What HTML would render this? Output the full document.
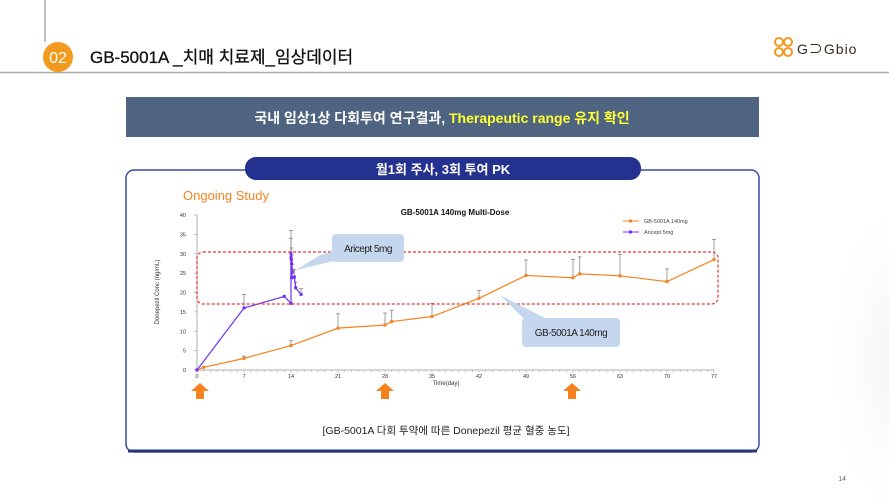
<!DOCTYPE html>
<html><head><meta charset="utf-8"><style>
html,body{margin:0;padding:0;background:#fff;}
body{width:889px;height:499px;overflow:hidden;position:relative;font-family:"Liberation Sans","Noto Sans CJK KR",sans-serif;}
</style></head><body>
<svg id="s" width="889" height="499" xmlns="http://www.w3.org/2000/svg" style="position:absolute;left:0;top:0">
<defs>
<radialGradient id="bg" cx="1" cy="0.6" r="0.5"><stop offset="0" stop-color="#ececec"/><stop offset="1" stop-color="#fff" stop-opacity="0"/></radialGradient>
</defs>
<rect x="760" y="150" width="129" height="349" fill="url(#bg)" opacity="0.6"/>
<line x1="45" y1="0" x2="45" y2="42" stroke="#aaa" stroke-width="1.5"/>
<line x1="0" y1="72.5" x2="889" y2="72.5" stroke="#aaa" stroke-width="1.5"/>
<circle cx="58" cy="57" r="15" fill="#f29a1d"/>
<text x="58" y="63" font-size="16" fill="#fff" text-anchor="middle">02</text>
<text x="90" y="63" font-size="17" fill="#111" stroke="#111" stroke-width="0.3">GB-5001A _치매 치료제_임상데이터</text>
<g fill="none" stroke="#f29a1d" stroke-width="2">
<circle cx="779" cy="42" r="4"/><circle cx="788" cy="42" r="4"/><circle cx="779" cy="52" r="4"/><circle cx="788" cy="52" r="4"/></g>
<text x="797" y="54" font-size="14" fill="#3a2a20" letter-spacing="1">G⊃Gbio</text>
<rect x="126" y="97" width="633" height="40" fill="#4f6480"/>
<text x="442" y="123" font-size="14" fill="#fff" text-anchor="middle" font-weight="bold">국내 임상1상 다회투여  연구결과, <tspan fill="#ffff33">Therapeutic range 유지 확인</tspan></text>
<rect x="126" y="170" width="633" height="282" rx="8" fill="#fff" stroke="#3a4aa0" stroke-width="1.5"/>
<line x1="128" y1="451" x2="757" y2="451" stroke="#2a357f" stroke-width="3"/>
<rect x="245" y="157" width="396" height="23" rx="11" fill="#24318e"/>
<text x="443" y="174" font-size="13" fill="#fff" text-anchor="middle" font-weight="bold">월1회 주사, 3회 투여 PK</text>
<text x="183" y="200" font-size="13" fill="#f5821f">Ongoing Study</text>
<text x="455" y="215" font-size="8" fill="#111" text-anchor="middle" font-weight="bold">GB-5001A  140mg  Multi-Dose</text>
<text x="159" y="292" font-size="6" fill="#333" text-anchor="middle" transform="rotate(-90 159 292)">Donepezil Conc (ng/mL)</text>
<text x="446" y="385" font-size="6" fill="#333" text-anchor="middle">Time(day)</text>
<line x1="623" y1="221" x2="639" y2="221" stroke="#f5821f"/><rect x="629" y="219.5" width="3" height="3" fill="#f5821f"/>
<text x="644" y="223" font-size="5.5" fill="#444">GB-5001A 140mg</text>
<line x1="623" y1="232" x2="639" y2="232" stroke="#7030f0"/><rect x="629" y="230.5" width="3" height="3" fill="#7030f0"/>
<text x="644" y="234" font-size="5.5" fill="#444">Aricept 5mg</text>
<g id="g"></g>
<rect x="197" y="252" width="521" height="52" rx="6" fill="none" stroke="#f03030" stroke-width="1.2" stroke-dasharray="3,2"/>
<polygon points="320,255 338,250 338,260 296,270" fill="#c5d7ee"/>
<rect x="332" y="234" width="72" height="28" rx="4" fill="#c5d7ee"/>
<text x="368" y="252" font-size="10" fill="#222" text-anchor="middle" letter-spacing="-0.5">Aricept 5mg</text>
<polygon points="500,295 545,318 530,325" fill="#c5d7ee"/>
<rect x="522" y="318" width="98" height="29" rx="4" fill="#c5d7ee"/>
<text x="571" y="336" font-size="10" fill="#222" text-anchor="middle" letter-spacing="-0.5">GB-5001A 140mg</text>
<g fill="#f5821f">
<polygon points="200,383 209,391 204,391 204,399 196,399 196,391 191,391"/>
<polygon points="385,383 394,391 389,391 389,399 381,399 381,391 376,391"/>
<polygon points="572,383 581,391 576,391 576,399 568,399 568,391 563,391"/>
</g>
<text x="446" y="434" font-size="10.5" fill="#222" text-anchor="middle">[GB-5001A 다회 투약에 따른 Donepezil 평균 혈중 농도]</text>
<text x="846" y="481" font-size="7" fill="#666" text-anchor="end">14</text>
</svg>
<script>
var g=document.getElementById('g'),h='';
function X(d){return 197+d*517/77}function Y(v){return 370-v*155/40}
h+='<line x1="197" y1="215" x2="197" y2="370" stroke="#999" stroke-width="0.8"/><line x1="197" y1="370" x2="714" y2="370" stroke="#999" stroke-width="0.8"/>';
for(var v=0;v<=40;v+=5){h+='<text x="186" y="'+(Y(v)+2)+'" font-size="5.5" fill="#333" text-anchor="end">'+v+'</text><line x1="194" y1="'+Y(v)+'" x2="197" y2="'+Y(v)+'" stroke="#999" stroke-width="0.6"/>';}
for(var d=0;d<=77;d++){h+='<line x1="'+X(d)+'" y1="370" x2="'+X(d)+'" y2="'+(d%7?372:373)+'" stroke="#999" stroke-width="0.5"/>';if(d%7==0)h+='<text x="'+X(d)+'" y="378" font-size="5.5" fill="#333" text-anchor="middle">'+d+'</text>';}
var o=[[0,0,0],[1,0.7,0],[7,3,0.6],[14,6.3,1.3],[21,10.8,3.7],[28,11.6,3.1],[29,12.5,2.9],[35,13.8,3.4],[42,18.5,2],[49,24.4,4],[56,23.8,4.7],[57,24.8,4.4],[63,24.3,5.5],[70,22.8,3.3],[77,28.5,5.2]];
var p=[[0,0,0],[7,16,3.5],[13,19,0],[14,17.2,0],[14,30,6],[14,29,5],[14.05,28.5,3],[14.1,27.5,2],[14.2,25.3,2],[14.1,23.8,2],[14.5,24,2],[14.7,21.2,1.5],[15.5,19.5,1.5]];
function ser(a,c){var s='';a.forEach(function(q){if(q[2])s+='<line x1="'+X(q[0])+'" y1="'+Y(q[1])+'" x2="'+X(q[0])+'" y2="'+Y(q[1]+q[2])+'" stroke="#888" stroke-width="0.8"/><line x1="'+(X(q[0])-2)+'" y1="'+Y(q[1]+q[2])+'" x2="'+(X(q[0])+2)+'" y2="'+Y(q[1]+q[2])+'" stroke="#888" stroke-width="0.8"/>';});
s+='<polyline fill="none" stroke="'+c+'" stroke-width="1.2" points="'+a.map(function(q){return X(q[0])+','+Y(q[1])}).join(' ')+'"/>';
a.forEach(function(q){s+='<rect x="'+(X(q[0])-1.5)+'" y="'+(Y(q[1])-1.5)+'" width="3" height="3" fill="'+c+'"/>'});return s;}
h+=ser(o,'#f5821f')+ser(p,'#7030f0');
g.innerHTML=h;
</script>
</body></html>
